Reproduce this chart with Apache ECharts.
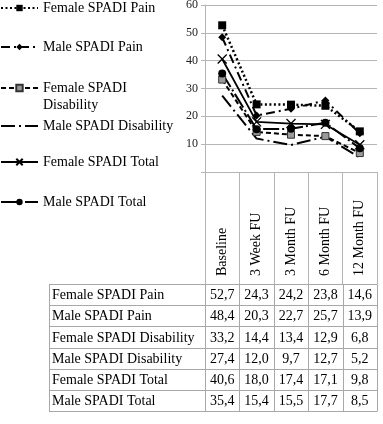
<!DOCTYPE html>
<html><head><meta charset="utf-8">
<script src="https://cdn.jsdelivr.net/npm/echarts@6/dist/echarts.min.js"></script>
<style>html,body{margin:0;padding:0;background:#fff}#c{width:383px;height:424px}</style>
</head><body><div id="c"></div>
<script>
var categories = ['Baseline', '3 Week FU', '3 Month FU', '6 Month FU', '12 Month FU'];
var seriesNames = ['Female SPADI Pain', 'Male SPADI Pain', 'Female SPADI Disability', 'Male SPADI Disability', 'Female SPADI Total', 'Male SPADI Total'];
var femalePain = [52.7, 24.3, 24.2, 23.8, 14.6];
var malePain = [48.4, 20.3, 22.7, 25.7, 13.9];
var femaleDisability = [33.2, 14.4, 13.4, 12.9, 6.8];
var maleDisability = [27.4, 12.0, 9.7, 12.7, 5.2];
var femaleTotal = [40.6, 18.0, 17.4, 17.1, 9.8];
var maleTotal = [35.4, 15.4, 15.5, 17.7, 8.5];
var yTicks = [0, 10, 20, 30, 40, 50, 60];

var allData = [femalePain, malePain, femaleDisability, maleDisability, femaleTotal, maleTotal];
var FONT = '"Liberation Serif", "Times New Roman", serif';
var GRID = '#b5b5b5';

var styles = [
  {lt: [2, 2.5], w: 2.5, sym: 'rect', size: 8, item: {color: '#000'}},
  {lt: [9, 4, 2, 4], w: 2, sym: 'diamond', size: 8, item: {color: '#000'}},
  {lt: [5, 3], w: 2, sym: 'rect', size: 7, item: {color: '#9a9a9a', borderColor: '#333', borderWidth: 1}},
  {lt: [14, 4, 2, 4], w: 2, sym: 'none', size: 0, item: {color: '#000'}},
  {lt: 'solid', w: 1.8, sym: 'path://M0,0L10,10M10,0L0,10', size: 9, item: {color: 'rgba(0,0,0,0)', borderColor: '#000', borderWidth: 1.3}},
  {lt: [16, 3, 2, 3], w: 2, sym: 'circle', size: 8, item: {color: '#000'}}
];

var series = seriesNames.map(function (n, i) {
  var s = styles[i];
  return {
    name: n, type: 'line', data: allData[i],
    symbol: s.sym, symbolSize: s.size, showSymbol: s.sym !== 'none',
    lineStyle: {color: '#000', width: s.w, type: s.lt},
    itemStyle: s.item,
    emphasis: {disabled: true},
    animation: false
  };
});

var legendCenters = [9, 48, 88, 127, 163, 203];
var legends = seriesNames.map(function (n, i) {
  var two = (i === 2);
  var lg = {
    data: [n], orient: 'vertical', left: 0,
    top: two ? legendCenters[i] - 25.5 : legendCenters[i] - 8,
    padding: 0, itemWidth: 37, itemHeight: 8, itemGap: 0,
    selectedMode: false,
    formatter: two ? ' \nFemale SPADI\nDisability' : '{name}',
    textStyle: two ? {fontFamily: FONT, fontSize: 14, color: '#000', lineHeight: 17} : {fontFamily: FONT, fontSize: 14, color: '#000'}
  };
  if (styles[i].sym === 'none') { lg.itemStyle = {color: 'rgba(0,0,0,0)', borderWidth: 0}; }
  return lg;
});

var chart = echarts.init(document.getElementById('c'), null, {renderer: 'canvas'});
chart.setOption({
  animation: false,
  backgroundColor: '#fff',
  legend: legends,
  grid: {left: 205, right: 6, top: 5, bottom: 252, containLabel: false, outerBoundsMode: 'none'},
  xAxis: {
    type: 'category', data: categories, boundaryGap: true,
    axisLine: {show: true, lineStyle: {color: GRID, width: 1}},
    axisTick: {show: true, interval: 0, length: 112, alignWithLabel: false, lineStyle: {color: GRID, width: 1}},
    axisLabel: {interval: 0, rotate: 90, align: 'left', verticalAlign: 'middle', margin: 104, fontFamily: FONT, fontSize: 14, color: '#000', hideOverlap: false},
    splitLine: {show: false}
  },
  yAxis: {
    type: 'value', min: yTicks[0], max: yTicks[yTicks.length - 1], interval: 10,
    axisLine: {show: true, lineStyle: {color: GRID, width: 1}},
    axisTick: {show: true, length: 4, lineStyle: {color: GRID}},
    axisLabel: {margin: 7, fontFamily: FONT, fontSize: 12, color: '#222', formatter: function (v) { return v === 0 ? '' : String(v); }},
    splitLine: {show: true, lineStyle: {color: GRID, width: 1}}
  },
  series: series
});

// data table below the header, columns aligned with the category axis
var centers = categories.map(function (c, i) { return chart.convertToPixel({xAxisIndex: 0}, i); });
var colW = centers[1] - centers[0];
var bounds = [centers[0] - colW / 2];
centers.forEach(function (c) { bounds.push(c + colW / 2); });
var tableLeft = 49, tableTop = 284, rowH = 21.2;
var tableBottom = tableTop + rowH * seriesNames.length;
var els = [];
var lineStyle = {stroke: '#a8a8a8', lineWidth: 1};
for (var r = 0; r <= seriesNames.length; r++) {
  var y = Math.round(tableTop + r * rowH) + 0.5;
  els.push({type: 'line', shape: {x1: tableLeft, y1: y, x2: bounds[bounds.length - 1], y2: y}, style: lineStyle, silent: true});
}
[tableLeft].concat(bounds).forEach(function (x) {
  var xx = Math.round(x) + 0.5;
  els.push({type: 'line', shape: {x1: xx, y1: tableTop + 0.5, x2: xx, y2: Math.round(tableBottom) + 0.5}, style: lineStyle, silent: true});
});
seriesNames.forEach(function (n, r) {
  var cy = tableTop + r * rowH + rowH / 2 + 1;
  els.push({type: 'text', x: tableLeft + 3, y: cy, style: {text: n, font: '14px ' + FONT, fill: '#000', align: 'left', verticalAlign: 'middle'}, silent: true});
  allData[r].forEach(function (v, c) {
    els.push({type: 'text', x: centers[c], y: cy, style: {text: v.toFixed(1).replace('.', ','), font: '14px ' + FONT, fill: '#000', align: 'center', verticalAlign: 'middle'}, silent: true});
  });
});
chart.setOption({graphic: els});
</script>
</body></html>
